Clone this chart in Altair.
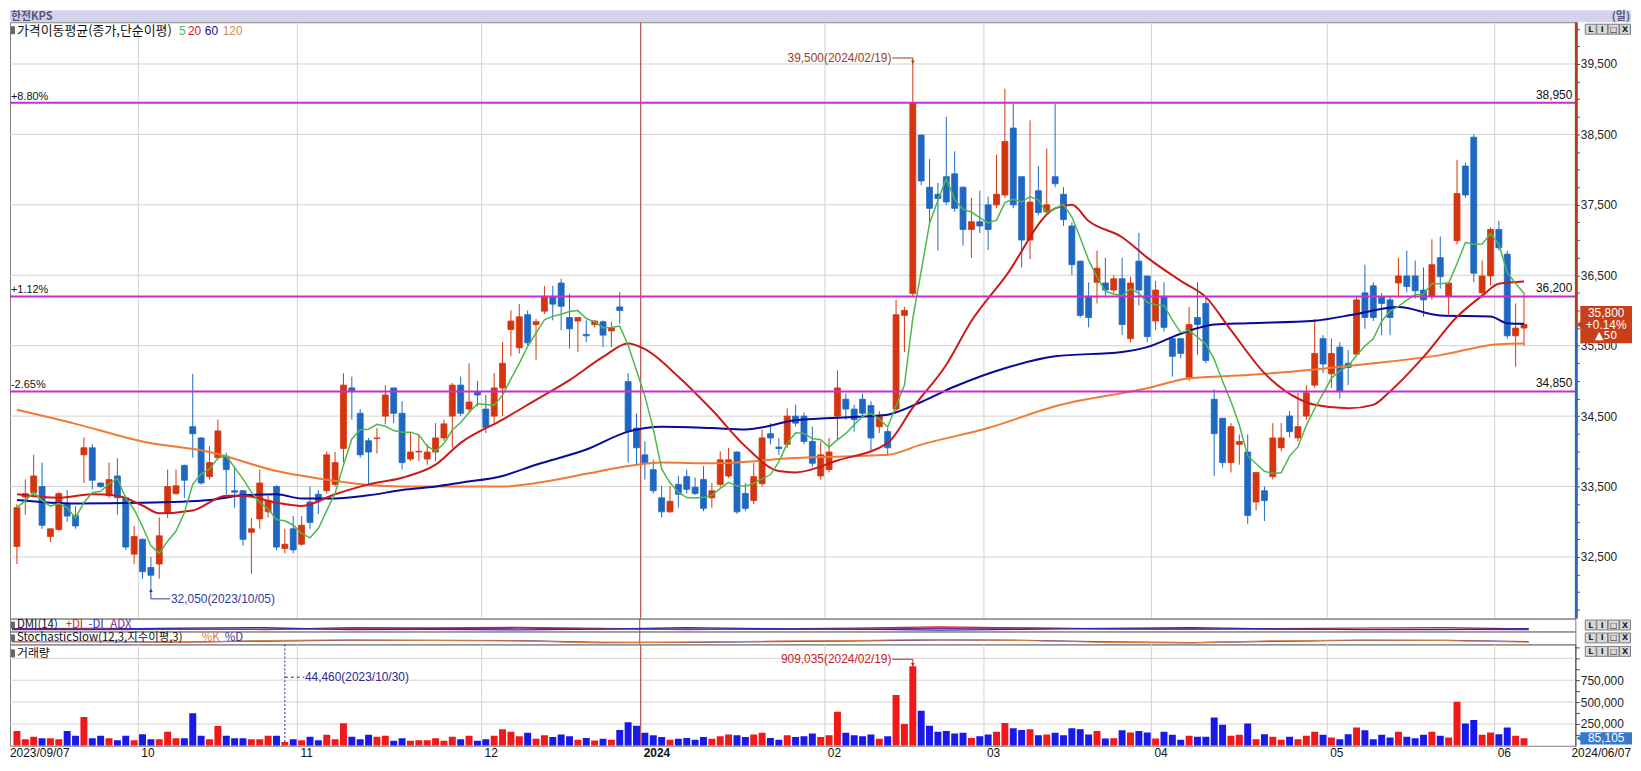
import altair as alt
import pandas as pd

# ---------------- data ----------------
opens = [32650,33350,33410,33500,32790,32890,33250,33090,33950,34050,
         33550,33370,33650,33340,32540,32750,32350,32400,33120,33400,
         33800,34350,34190,33640,33910,33930,33440,33440,32850,33040,
         33140,33500,32620,32900,32680,33280,33390,33440,33530,34040,
         34900,34540,34150,34180,34500,34900,34540,33890,33990,33890,
         33990,34190,34500,34940,34600,34840,34600,34500,34900,35730,
         35470,35940,35800,35990,36200,36390,35900,35850,35660,35800,
         35840,35710,36050,34990,34330,33950,33740,33340,33140,33530,
         33640,33490,33600,33340,33530,33650,33990,33400,33300,33540,
         34250,34060,34100,34500,34500,34140,33650,33740,34500,34740,
         34600,34740,34650,34350,34280,34600,35930,36240,38490,37750,
         37650,37900,37940,37750,37150,37260,37500,37500,37640,38590,
         37900,37000,37700,37400,37900,37650,37200,36700,36200,36400,
         36390,36290,36450,35600,36700,36490,35850,36200,35600,35600,
         35050,35900,36100,34740,34470,33840,34100,33990,33280,33440,
         33640,34050,34500,34190,34500,34940,35600,35100,35480,35250,
         35380,36250,36350,36190,36150,36390,36490,36490,36290,36200,
         36750,36200,36990,38050,38460,36250,36490,37150,36800,35640,
         35750]
highs = [33250,33600,33950,33840,32900,33420,33450,33220,34200,34100,
         33560,33840,33900,33370,32940,32760,32500,33060,33740,33740,
         33810,35100,34200,34070,34450,33980,33790,33450,33050,33740,
         33370,33520,32900,33080,33080,33500,33450,34000,33990,35110,
         35060,34600,34190,34330,34940,34900,34710,34260,34240,34100,
         34400,34450,34970,35060,35250,35000,34800,35110,35550,36000,
         36090,36000,35880,36350,36350,36450,36240,35900,35860,35860,
         35860,35840,36260,35110,34540,34140,33880,33510,33510,33650,
         33740,33630,33790,33550,34000,34050,34000,33550,33840,34310,
         34400,34190,34610,34660,34550,34350,34140,34190,35150,34820,
         34660,34820,34710,34570,34330,36150,36050,39500,38500,38150,
         37810,38750,38260,37760,37600,37700,37620,38210,39150,38940,
         37900,38700,38050,38300,38940,37750,37250,36710,36400,36850,
         36750,36500,36750,36480,37100,36490,36420,36400,35600,35600,
         36050,36400,36200,34880,34470,34400,34240,34240,33700,33500,
         34400,34400,34570,34830,34940,35880,35650,35600,35550,35440,
         36200,36650,36400,36250,36190,36750,36850,36710,36610,37010,
         37050,36390,38140,38100,38500,36710,37180,37270,36850,36100,
         36250]
lows = [32400,33100,33370,32900,32710,32870,33000,32900,33550,33460,
        33480,33340,33100,32600,32400,32190,32050,32190,33050,33380,
        33340,33910,33530,33600,33880,33390,33200,32660,32260,32900,
        33060,32600,32550,32550,32660,32900,33110,33400,33500,33840,
        34450,33910,33530,33970,34380,34400,33740,33860,33860,33810,
        33860,34150,34050,34500,34550,34640,34260,34400,34500,35350,
        35390,35500,35300,35950,35860,35720,35460,35410,35550,35760,
        35480,35480,35810,33840,33800,33600,33400,33060,33130,33200,
        33400,33380,33150,33200,33500,33620,33110,33150,33250,33500,
        34100,33950,34050,34350,34100,33780,33600,33700,34170,34450,
        34280,34500,34000,34260,33940,34560,35410,36190,37780,37250,
        36850,37500,37400,36920,36750,37100,36860,37450,37600,37450,
        36610,36730,37350,37380,37750,37200,36500,35900,35760,36100,
        36210,36250,35650,35550,36070,35550,35720,35700,35060,35320,
        35000,35370,35250,33650,33770,33700,33810,32970,33160,33010,
        33600,34000,34200,34140,34450,34900,35110,34900,34750,34940,
        35350,35740,35850,35650,35650,36210,36260,36170,35910,36150,
        36310,35940,36940,37600,36400,36200,36350,36850,35600,35200,
        35500]
closes = [33200,33400,33650,32950,32900,33400,33080,32940,34050,33590,
          33500,33600,33340,32640,32790,32290,32240,32800,33500,33510,
          33590,34250,33550,33840,34290,33740,33420,32750,32900,33550,
          33300,32640,32680,32600,32950,32990,33300,33950,33840,34940,
          34850,33950,33990,34190,34800,34540,33840,33990,34000,33990,
          34190,34390,34940,34540,34700,34800,34340,34900,35250,35850,
          35910,35540,35840,36200,36090,36060,35740,35900,35640,35850,
          35650,35750,36000,34280,34050,33840,33440,33140,33290,33390,
          33460,33400,33190,33440,33880,33880,33140,33190,33640,34190,
          34190,34040,34500,34400,34140,33830,33950,33990,34900,34600,
          34450,34540,34190,34500,34050,35940,36000,38950,37840,37450,
          37590,37540,37450,37150,37260,37200,37150,37650,38400,37500,
          37000,37540,37390,37500,37800,37290,36650,35930,35900,36600,
          36290,36450,35800,36390,36290,35630,36290,35760,35350,35390,
          35800,35800,35290,34250,33840,34350,34140,33090,33700,33300,
          34190,34190,34280,34350,34830,35390,35240,35390,34850,35190,
          36150,35900,35900,36100,35900,36490,36340,36280,36150,36650,
          36480,36390,37660,37640,36530,36490,37150,36890,35640,35750,
          35800]
volumes = [170000,76000,102000,87000,87000,76000,170000,114000,330000,87000,
           114000,87000,64000,114000,64000,133000,76000,76000,159000,87000,
           87000,371000,114000,76000,227000,114000,87000,87000,76000,76000,
           114000,114000,44460,76000,64000,102000,64000,125000,76000,258000,
           102000,76000,125000,102000,114000,57000,87000,57000,64000,64000,
           87000,57000,102000,76000,114000,57000,76000,114000,190000,160000,
           110000,150000,80000,120000,100000,130000,110000,70000,90000,60000,
           80000,70000,180000,270000,230000,150000,120000,100000,70000,80000,
           90000,70000,100000,80000,110000,130000,120000,100000,130000,150000,
           90000,70000,120000,100000,110000,140000,100000,120000,390000,150000,
           120000,110000,130000,80000,110000,580000,250000,909035,400000,230000,
           160000,170000,140000,150000,90000,110000,130000,160000,260000,200000,
           180000,190000,120000,130000,150000,120000,200000,190000,130000,170000,
           83000,87000,178000,152000,170000,152000,83000,159000,125000,68000,
           114000,102000,102000,322000,239000,114000,125000,254000,76000,133000,
           102000,68000,102000,76000,114000,159000,125000,95000,76000,133000,
           208000,178000,76000,125000,95000,159000,102000,87000,125000,159000,
           114000,95000,504000,254000,295000,125000,152000,133000,208000,114000,
           85105]

ma20_idx = [0,5,9,12,15,17,21,25,27,31,34,38,42,46,50,53,58,62,66,70,73,75,79,83,87,91,93,
            98,104,107,111,114,118,124,126,128,132,135,139,142,145,149,153,155,159,162,164,
            168,172,175,177,180]
ma20_val = [33390,33340,33390,33370,33230,33120,33160,33370,33370,33270,33225,33390,33530,
            33625,33810,34120,34450,34730,35010,35340,35530,35450,35060,34590,34070,33720,
            33700,33870,34120,34620,35230,35850,36470,37450,37500,37270,37040,36750,36420,
            36190,35720,35110,34750,34660,34610,34660,34850,35340,35910,36210,36380,36410]
ma60_idx = [0,7,15,23,27,31,34,38,42,46,50,53,58,62,68,73,77,83,87,93,102,104,108,112,118,
            124,132,135,139,143,147,155,160,165,170,176,178,180]
ma60_val = [33310,33260,33270,33310,33375,33390,33330,33330,33375,33450,33500,33555,33650,
            33810,34025,34280,34350,34330,34310,34440,34500,34520,34700,34920,35180,35350,
            35410,35480,35670,35800,35820,35855,35950,36050,35930,35915,35820,35810]
ma120_idx = [0,7,15,23,31,38,42,46,52,58,62,68,73,77,83,93,104,108,116,124,135,140,147,155,
             162,170,177,180]
ma120_val = [34590,34390,34140,33990,33720,33580,33520,33500,33500,33500,33550,33680,33790,
             33840,33830,33905,33950,34095,34330,34640,34895,35036,35083,35163,35250,35366,
             35521,35530]

dmi_idx = [0,10,20,30,40,50,60,70,80,90,100,110,120,130,140,150,160,170,180]
dmi_plus = [22,25,18,15,30,28,32,24,14,20,26,35,28,18,16,22,27,30,20]
dmi_minus = [20,18,26,30,14,16,12,18,30,22,18,10,16,24,30,20,15,14,22]
dmi_adx = [15,14,16,18,20,22,25,20,18,16,18,24,26,22,20,18,17,16,15]
sto_k = [20,25,15,30,35,30,28,12,18,25,30,38,30,16,12,28,34,30,18]
sto_d = [22,22,18,26,32,31,29,16,16,22,28,35,32,20,14,24,32,31,22]

month_start_idx = [15, 34, 56, 75, 97, 116, 136, 157, 177]
month_labels = ["10", "11", "12", "2024", "02", "03", "04", "05", "06"]
first_label, last_label = "2023/09/07", "2024/06/07"
price_grid = [32500, 33500, 34500, 35500, 36500, 37500, 38500, 39500]
level_values = [38950, 36200, 34850]
level_pcts = ["+8.80%", "+1.12%", "-2.65%"]
level_texts = ["38,950", "36,200", "34,850"]
vol_grid = [250000, 500000, 750000, 1000000]
cur_price, cur_pct, cur_change = 35800, "+0.14%", "▲50"
max_idx, max_price, max_text = 107, 39500, "39,500(2024/02/19)"
min_idx, min_price, min_text = 16, 32050, "32,050(2023/10/05)"
vmax_idx, vmax_val, vmax_text = 107, 909035, "909,035(2024/02/19)"
vmin_idx, vmin_val, vmin_text = 32, 44460, "44,460(2023/10/30)"
last_vol_text = "85,105"

# ---------------- layout / style ----------------
W = 1575
H_HEAD, H_PRICE, H_IND, H_VOL = 12, 600, 13, 102
X_DOMAIN = [-0.236, 185.54]
P_DOMAIN = [31625, 40093]
V_DOMAIN = [0, 1159000]

C_UP, C_DN = "#d4350f", "#1f68c2"
C_VUP, C_VDN = "#f01818", "#1818e8"
C_MA5, C_MA20, C_MA60, C_MA120 = "#4cb84c", "#cc1a1a", "#0a0a9a", "#f07b35"
C_MAG = "#cc2ccc"
C_GRID = "#d2d2d2"
C_YEAR = "#b83a3a"
NUM_FONT = "Liberation Sans"
KR_FONT = "Noto Sans CJK KR"

xs = alt.Scale(domain=X_DOMAIN, nice=False, zero=False)
ps = alt.Scale(domain=P_DOMAIN, nice=False, zero=False)
vs = alt.Scale(domain=V_DOMAIN, nice=False, zero=False)
ids = alt.Scale(domain=[0, 100], nice=False, zero=False)

price_axis = alt.Axis(orient="right", values=list(range(31750, 40001, 250)),
                      labelExpr="datum.value % 1000 == 500 ? format(datum.value, ',') : ''",
                      tickSize=4, tickColor="#444", domain=False, grid=False,
                      labelFont=NUM_FONT, labelFontSize=12, labelColor="#222",
                      labelPadding=1, labelOverlap=False, title=None)
vol_axis = alt.Axis(orient="right", values=[125000 * k for k in range(1, 10)],
                    labelExpr="(datum.value % 250000 == 0 && datum.value <= 750000) ? format(datum.value, ',') : ''",
                    tickSize=4, tickColor="#444", domain=True, domainColor="#444", grid=False,
                    labelFont=NUM_FONT, labelFontSize=12, labelColor="#222",
                    labelPadding=1, labelOverlap=False, title=None)


def PX(f):
    return alt.X(f, type="quantitative", scale=xs, axis=None)


def PXd(v):
    return alt.XDatum(v, type="quantitative", scale=xs, axis=None)


def PY(f):
    return alt.Y(f, type="quantitative", scale=ps, axis=price_axis)


def PYd(v):
    return alt.YDatum(v, type="quantitative", scale=ps, axis=price_axis)


def VY(f):
    return alt.Y(f, type="quantitative", scale=vs, axis=vol_axis)


def VYd(v):
    return alt.YDatum(v, type="quantitative", scale=vs, axis=vol_axis)


def IY(f):
    return alt.Y(f, type="quantitative", scale=ids, axis=None)


one = pd.DataFrame({"z": [0]})


def label(text, x, y, color="#111", size=12, font=KR_FONT, align="left", weight="normal"):
    return alt.Chart(one).mark_text(text=text, align=align, baseline="middle", font=font,
                                    fontSize=size, color=color, fontWeight=weight).encode(
        x=alt.value(x), y=alt.value(y))


def buttons(y0):
    """the small L / I / box / X buttons at the top-right of each panel"""
    out = []
    for k, ch in enumerate(["L", "I", "□", "X"]):
        x0 = W + 10 + k * 11.5
        out.append(alt.Chart(one).mark_rect(color="#d8d8d8", stroke="#7a7a7a",
                                            strokeWidth=1).encode(
            x=alt.value(x0), x2=alt.value(x0 + 11), y=alt.value(y0), y2=alt.value(y0 + 10)))
        out.append(alt.Chart(one).mark_text(text=ch, align="center", baseline="middle",
                                            font="DejaVu Sans", fontSize=8, fontWeight="bold",
                                            color="#222").encode(
            x=alt.value(x0 + 5.5), y=alt.value(y0 + 5.5)))
    return out


df = pd.DataFrame({"i": list(range(len(closes))), "open": opens, "high": highs,
                   "low": lows, "close": closes, "vol": volumes})
df["ma5"] = df["close"].rolling(5, min_periods=1).mean()
up = df[df["close"] >= df["open"]]
dn = df[df["close"] < df["open"]]
mdf = pd.DataFrame({"pos": [m - 0.5 for m in month_start_idx], "lab": month_labels})
year_pos = month_start_idx[3] - 0.5

# ---------------- header ----------------
head = alt.layer(
    alt.Chart(one).mark_rect(color="#d3d3ea").encode(
        x=alt.value(0), x2=alt.value(W + 56), y=alt.value(0), y2=alt.value(H_HEAD)),
    label("한전KPS", 1, 6.5, color="#55557a", size=11, weight="bold"),
    label("(일)", W + 55, 6.5, color="#55557a", size=11, align="right", weight="bold"),
).properties(width=W, height=H_HEAD, view=alt.ViewBackground(stroke=None))

# ---------------- price panel ----------------
grid_h = alt.Chart(pd.DataFrame({"p": price_grid})).mark_rule(color=C_GRID, strokeWidth=1).encode(
    y=PY("p"), x=alt.value(0), x2=alt.value(W))
grid_v = alt.Chart(mdf).mark_rule(color=C_GRID, strokeWidth=1).encode(
    x=PX("pos"), y=alt.value(0), y2=alt.value(H_PRICE))
year_line = alt.Chart(one).mark_rule(color=C_YEAR, strokeWidth=1).encode(
    x=PXd(year_pos), y=alt.value(0), y2=alt.value(H_PRICE))

lev = pd.DataFrame({"p": level_values, "pct": level_pcts, "txt": level_texts})
lev_rule = alt.Chart(lev).mark_rule(color=C_MAG, strokeWidth=2).encode(
    y=PY("p"), x=alt.value(0), x2=alt.value(W))
lev_left = alt.Chart(lev).mark_text(align="left", baseline="bottom", dy=-1, font=NUM_FONT,
                                    fontSize=11, color="#111").encode(
    y=PY("p"), x=alt.value(1), text="pct:N")
lev_right = alt.Chart(lev).mark_text(align="right", baseline="bottom", dy=-1, font=NUM_FONT,
                                     fontSize=12, color="#111").encode(
    y=PY("p"), x=alt.value(W - 3), text="txt:N")


def ma_line(idx, vals, color, width):
    d = pd.DataFrame({"i": idx, "v": vals})
    return alt.Chart(d).mark_line(color=color, strokeWidth=width, interpolate="monotone",
                                  clip=True).encode(x=PX("i"), y=PY("v"))


ma120 = ma_line(ma120_idx, ma120_val, C_MA120, 2)
ma60 = ma_line(ma60_idx, ma60_val, C_MA60, 2)
ma20 = ma_line(ma20_idx, ma20_val, C_MA20, 2)
ma5 = alt.Chart(df).mark_line(color=C_MA5, strokeWidth=1.5, clip=True).encode(
    x=PX("i"), y=PY("ma5"))


def candles(d, color):
    wick = alt.Chart(d).mark_rule(color=color, strokeWidth=1, clip=True).encode(
        x=PX("i"), y=PY("low"), y2="high")
    body = alt.Chart(d).mark_bar(color=color, stroke=color, strokeWidth=0.8, size=6,
                                 clip=True).encode(x=PX("i"), y=PY("open"), y2="close")
    return [wick, body]


ann_col = "#9c3c1c"
max_ann = [
    alt.Chart(one).mark_text(text=max_text, align="right", baseline="middle", font=NUM_FONT,
                             fontSize=12, color=ann_col).encode(
        x=PXd(max_idx - 2.55), y=PYd(max_price + 85)),
    alt.Chart(one).mark_rule(color=ann_col, strokeWidth=1).encode(
        x=PXd(max_idx - 2.45), x2=alt.X2Datum(max_idx), y=PYd(max_price + 85)),
    alt.Chart(one).mark_rule(color=ann_col, strokeWidth=1).encode(
        x=PXd(max_idx), y=PYd(max_price + 85), y2=alt.Y2Datum(max_price)),
    alt.Chart(one).mark_point(shape="triangle-down", filled=True, size=14, color=ann_col,
                              opacity=1).encode(x=PXd(max_idx), y=PYd(max_price + 25)),
]
min_col = "#2c3c9c"
min_ann = [
    alt.Chart(one).mark_rule(color=min_col, strokeWidth=1).encode(
        x=PXd(min_idx), y=PYd(min_price), y2=alt.Y2Datum(min_price - 145)),
    alt.Chart(one).mark_rule(color=min_col, strokeWidth=1).encode(
        x=PXd(min_idx), x2=alt.X2Datum(min_idx + 2.3), y=PYd(min_price - 145)),
    alt.Chart(one).mark_point(shape="triangle-up", filled=True, size=14, color=min_col,
                              opacity=1).encode(x=PXd(min_idx), y=PYd(min_price - 25)),
    alt.Chart(one).mark_text(text=min_text, align="left", baseline="middle", font=NUM_FONT,
                             fontSize=12, color=min_col).encode(
        x=PXd(min_idx + 2.4), y=PYd(min_price - 145)),
]

C_BOX = "#c8401a"
axis_rules = [
    alt.Chart(one).mark_rule(color="#b04020", strokeWidth=3).encode(
        x=alt.value(W + 1), y=PYd(cur_price), y2=alt.value(0)),
    alt.Chart(one).mark_rule(color="#2a6ab8", strokeWidth=3).encode(
        x=alt.value(W + 1), y=PYd(cur_price), y2=alt.value(H_PRICE)),
]
price_box = [
    alt.Chart(one).mark_rect(color=C_BOX).encode(
        x=alt.value(W + 5), x2=alt.value(W + 57), y=PYd(cur_price + 265),
        y2=alt.Y2Datum(cur_price - 265)),
    alt.Chart(one).mark_point(shape="triangle-left", filled=True, size=70, color=C_BOX,
                              opacity=1).encode(x=alt.value(W + 4), y=PYd(cur_price)),
    alt.Chart(one).mark_text(text=format(cur_price, ","), align="center", baseline="middle",
                             dy=-12, font=NUM_FONT, fontSize=12, color="white").encode(
        x=alt.value(W + 31), y=PYd(cur_price)),
    alt.Chart(one).mark_text(text=cur_pct, align="center", baseline="middle", dy=0,
                             font=NUM_FONT, fontSize=12, color="white").encode(
        x=alt.value(W + 31), y=PYd(cur_price)),
    alt.Chart(one).mark_text(text=cur_change, align="center", baseline="middle", dy=12,
                             font="DejaVu Sans", fontSize=11, color="white").encode(
        x=alt.value(W + 31), y=PYd(cur_price)),
]

legend = [
    alt.Chart(one).mark_rect(color="#666").encode(
        x=alt.value(1), x2=alt.value(5), y=alt.value(4), y2=alt.value(12)),
    label("가격이동평균(종가,단순이평)", 7, 8.5, size=13),
    label("5", 170, 8.5, color=C_MA5, size=12, font=NUM_FONT),
    label("20", 179, 8.5, color=C_MA20, size=12, font=NUM_FONT),
    label("60", 196, 8.5, color=C_MA60, size=12, font=NUM_FONT),
    label("120", 214, 8.5, color="#d08a50", size=12, font=NUM_FONT),
]

price = alt.layer(
    grid_h, grid_v, year_line,
    *candles(up, C_UP), *candles(dn, C_DN),
    ma120, ma60, ma20, ma5,
    lev_rule, lev_left, lev_right,
    *max_ann, *min_ann, *axis_rules, *price_box, *legend, *buttons(2),
).properties(width=W, height=H_PRICE, view=alt.ViewBackground(stroke="#808080"))

# ---------------- DMI / stochastic strips ----------------
ind = pd.DataFrame({"i": dmi_idx, "pdi": dmi_plus, "mdi": dmi_minus, "adx": dmi_adx,
                    "k": sto_k, "d": sto_d})


def ind_line(field, color):
    return alt.Chart(ind).mark_line(color=color, strokeWidth=1.2, clip=True).encode(
        x=PX("i"), y=IY(field))


def ind_year(h):
    return alt.Chart(one).mark_rule(color=C_YEAR, strokeWidth=1).encode(
        x=PXd(year_pos), y=alt.value(0), y2=alt.value(h))


dmi = alt.layer(
    ind_year(H_IND),
    ind_line("adx", "#7a2a9a"), ind_line("pdi", "#d02020"), ind_line("mdi", "#2a2ab0"),
    alt.Chart(one).mark_rect(color="#666").encode(
        x=alt.value(1), x2=alt.value(5), y=alt.value(3), y2=alt.value(10)),
    label("DMI(14)", 7, 6.5, size=11.5),
    label("+DI", 56, 6.5, color="#d02020", size=11.5),
    label("-DI", 79, 6.5, color="#2a2ab0", size=11.5),
    label("ADX", 101, 6.5, color="#7a2a9a", size=11.5),
    *buttons(1.5),
).properties(width=W, height=H_IND, view=alt.ViewBackground(stroke="#808080"))

sto = alt.layer(
    ind_year(H_IND),
    ind_line("d", "#4a2a8a"), ind_line("k", "#e08040"),
    alt.Chart(one).mark_rect(color="#666").encode(
        x=alt.value(1), x2=alt.value(5), y=alt.value(3), y2=alt.value(10)),
    label("StochasticSlow(12,3,지수이평,3)", 7, 6.5, size=11.5),
    label("%K", 193, 6.5, color="#e08040", size=11.5),
    label("%D", 216, 6.5, color="#4a2a8a", size=11.5),
    *buttons(1.5),
).properties(width=W, height=H_IND, view=alt.ViewBackground(stroke="#808080"))

# ---------------- volume panel ----------------
vgrid_h = alt.Chart(pd.DataFrame({"v": vol_grid})).mark_rule(color=C_GRID, strokeWidth=1).encode(
    y=VY("v"), x=alt.value(0), x2=alt.value(W))
vgrid_v = alt.Chart(mdf).mark_rule(color=C_GRID, strokeWidth=1).encode(
    x=PX("pos"), y=alt.value(0), y2=alt.value(H_VOL))
vbars_up = alt.Chart(up).mark_bar(color=C_VUP, size=7, clip=True).encode(x=PX("i"), y=VY("vol"))
vbars_dn = alt.Chart(dn).mark_bar(color=C_VDN, size=7, clip=True).encode(x=PX("i"), y=VY("vol"))

vcol = "#c81e1e"
vmax_ann = [
    alt.Chart(one).mark_text(text=vmax_text, align="right", baseline="middle", font=NUM_FONT,
                             fontSize=12, color=vcol).encode(
        x=PXd(vmax_idx - 2.55), y=VYd(vmax_val + 80000)),
    alt.Chart(one).mark_rule(color=vcol, strokeWidth=1).encode(
        x=PXd(vmax_idx - 2.45), x2=alt.X2Datum(vmax_idx), y=VYd(vmax_val + 80000)),
    alt.Chart(one).mark_rule(color=vcol, strokeWidth=1).encode(
        x=PXd(vmax_idx), y=VYd(vmax_val + 80000), y2=alt.Y2Datum(vmax_val)),
    alt.Chart(one).mark_point(shape="triangle-down", filled=True, size=14, color=vcol,
                              opacity=1).encode(x=PXd(vmax_idx), y=VYd(vmax_val + 20000)),
]
ncol = "#2a2a90"
vmin_ann = [
    alt.Chart(one).mark_rule(color=ncol, strokeWidth=1, strokeDash=[2, 2]).encode(
        x=PXd(vmin_idx), y=VYd(vmin_val), y2=alt.value(0)),
    alt.Chart(one).mark_rule(color=ncol, strokeWidth=1, strokeDash=[3, 3]).encode(
        x=PXd(vmin_idx), x2=alt.X2Datum(vmin_idx + 2.3), y=VYd(784000)),
    alt.Chart(one).mark_text(text=vmin_text, align="left", baseline="middle", font=NUM_FONT,
                             fontSize=12, color=ncol).encode(
        x=PXd(vmin_idx + 2.4), y=VYd(784000)),
]
vol_box = [
    alt.Chart(one).mark_rect(color="#3a78c8").encode(
        x=alt.value(W + 5), x2=alt.value(W + 57), y=VYd(volumes[-1] + 70000),
        y2=alt.Y2Datum(volumes[-1] - 70000)),
    alt.Chart(one).mark_point(shape="triangle-left", filled=True, size=50, color="#3a78c8",
                              opacity=1).encode(x=alt.value(W + 4), y=VYd(volumes[-1])),
    alt.Chart(one).mark_text(text=last_vol_text, align="center", baseline="middle",
                             font=NUM_FONT, fontSize=12, color="white").encode(
        x=alt.value(W + 31), y=VYd(volumes[-1])),
]
xlabels = [
    alt.Chart(mdf[mdf["lab"] != "2024"]).mark_text(align="left", baseline="middle", dx=3,
                                                   font=NUM_FONT, fontSize=12,
                                                   color="#111").encode(
        x=PX("pos"), y=alt.value(H_VOL + 7), text="lab:N"),
    alt.Chart(mdf[mdf["lab"] == "2024"]).mark_text(align="left", baseline="middle", dx=3,
                                                   font=NUM_FONT, fontSize=12,
                                                   fontWeight="bold", color="#111").encode(
        x=PX("pos"), y=alt.value(H_VOL + 7), text="lab:N"),
    label(first_label, 0, H_VOL + 7, size=12, font=NUM_FONT),
    label(last_label, W + 56, H_VOL + 7, size=12, font=NUM_FONT, align="right"),
]
vol = alt.layer(
    vgrid_h, vgrid_v, ind_year(H_VOL), vbars_up, vbars_dn,
    *vmax_ann, *vmin_ann, *vol_box, *xlabels,
    alt.Chart(one).mark_rect(color="#666").encode(
        x=alt.value(1), x2=alt.value(5), y=alt.value(5), y2=alt.value(13)),
    label("거래량", 7, 9, size=12),
    *buttons(2),
).properties(width=W, height=H_VOL, view=alt.ViewBackground(stroke="#808080"))

chart = alt.vconcat(head, price, dmi, sto, vol, spacing=0, bounds="flush").properties(
    padding=0, background="white")

chart.save("out.html", embed_options={"renderer": "svg", "actions": False})
